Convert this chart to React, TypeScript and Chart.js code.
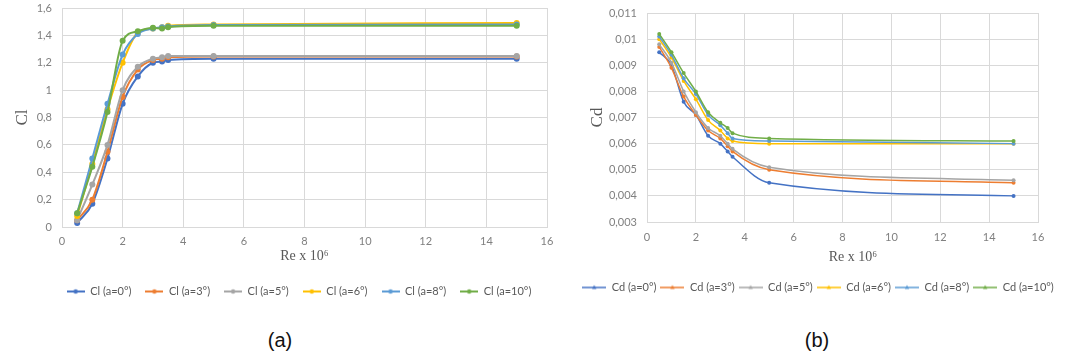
import React, { useEffect, useRef } from 'react';
import { Chart, registerables } from 'chart.js';

Chart.register(...registerables);

// Reynolds numbers (x 10^6) at which each case was evaluated
const RE = [0.5, 1, 1.5, 2, 2.5, 3, 3.3, 3.5, 5, 15];
const ANGLES = ['0', '3', '5', '6', '8', '10'];
const COLORS = ['#4472C4', '#ED7D31', '#A5A5A5', '#FFC000', '#5B9BD5', '#70AD47'];

// Lift coefficient per angle of attack
const CL_A0 = [0.03, 0.17, 0.5, 0.9, 1.1, 1.2, 1.21, 1.22, 1.23, 1.23];
const CL_A3 = [0.05, 0.2, 0.55, 0.95, 1.15, 1.22, 1.23, 1.24, 1.245, 1.245];
const CL_A5 = [0.05, 0.31, 0.6, 1.0, 1.17, 1.23, 1.24, 1.25, 1.25, 1.25];
const CL_A6 = [0.08, 0.46, 0.86, 1.2, 1.42, 1.45, 1.46, 1.47, 1.48, 1.49];
const CL_A8 = [0.1, 0.5, 0.9, 1.26, 1.41, 1.45, 1.46, 1.465, 1.475, 1.48];
const CL_A10 = [0.1, 0.44, 0.84, 1.36, 1.43, 1.455, 1.45, 1.46, 1.47, 1.47];

// Drag coefficient per angle of attack
const CD_A0 = [0.0095, 0.0090, 0.0076, 0.0071, 0.0063, 0.0060, 0.0057, 0.0055, 0.0045, 0.0040];
const CD_A3 = [0.0097, 0.0089, 0.0078, 0.0071, 0.0065, 0.0062, 0.0059, 0.0057, 0.0050, 0.0045];
const CD_A5 = [0.0098, 0.0091, 0.0080, 0.0072, 0.0066, 0.0063, 0.0060, 0.0058, 0.0051, 0.0046];
const CD_A6 = [0.0100, 0.0093, 0.0084, 0.0077, 0.0069, 0.0065, 0.0062, 0.0061, 0.0060, 0.0060];
const CD_A8 = [0.0101, 0.0094, 0.0085, 0.0079, 0.0071, 0.0067, 0.0064, 0.0062, 0.0061, 0.0060];
const CD_A10 = [0.0102, 0.0095, 0.0087, 0.0080, 0.0072, 0.0068, 0.0066, 0.0064, 0.0062, 0.0061];

const CL_SERIES = [CL_A0, CL_A3, CL_A5, CL_A6, CL_A8, CL_A10];
const CD_SERIES = [CD_A0, CD_A3, CD_A5, CD_A6, CD_A8, CD_A10];

const X_TITLE = 'Re x 10\u2076';
const TEXT_GRAY = '#595959';
const TICK_GRAY = '#808080';
const GRID = '#D9D9D9';

const comma = (v: number, digits: number) =>
  String(Number(v.toFixed(digits))).replace('.', ',');

// Small line-with-marker swatch used as the legend symbol
function legendGlyph(color: string, w: number, h: number, shape: 'circle' | 'triangle', lw: number) {
  const c = document.createElement('canvas');
  c.width = w;
  c.height = h;
  const g = c.getContext('2d')!;
  g.strokeStyle = color;
  g.lineWidth = lw;
  g.beginPath();
  g.moveTo(0, h / 2);
  g.lineTo(w, h / 2);
  g.stroke();
  g.fillStyle = color;
  g.beginPath();
  if (shape === 'circle') {
    g.arc(w / 2, h / 2, 2.2, 0, Math.PI * 2);
  } else {
    g.moveTo(w / 2, h / 2 - 2.5);
    g.lineTo(w / 2 + 2.2, h / 2 + 1.5);
    g.lineTo(w / 2 - 2.2, h / 2 + 1.5);
    g.closePath();
  }
  g.fill();
  return c;
}

type Spec = {
  prefix: string;
  series: number[][];
  yMin: number;
  yMax: number;
  yStep: number;
  yDigits: number;
  yTitle: string;
  yTitlePadTop: number;
  xTitle: string;
  padLeft: number;
  padTop: number;
  yWidth: number;
  rightGutter: number;
  xHeight: number;
  xTickPad: number;
  xTitlePadBottom: number;
  lineWidth: number;
  pointRadius: number;
  glyph: 'circle' | 'triangle';
  glyphWidth: number;
  legendPad: number;
};

function buildConfig(spec: Spec): any {
  const glyphs = COLORS.map((c) => legendGlyph(c, spec.glyphWidth, 8, spec.glyph, spec.lineWidth));
  return {
    type: 'line',
    data: {
      datasets: spec.series.map((vals, i) => ({
        label: `${spec.prefix} (a=${ANGLES[i]}\u00B0)`,
        data: RE.map((x, k) => ({ x, y: vals[k] })),
        borderColor: COLORS[i],
        backgroundColor: COLORS[i],
        borderWidth: spec.lineWidth,
        pointRadius: spec.pointRadius,
        pointBorderWidth: 0,
        pointBackgroundColor: COLORS[i],
        cubicInterpolationMode: 'monotone',
        fill: false,
        order: spec.series.length - i,
        yAxisID: 'y',
      })),
    },
    options: {
      responsive: false,
      animation: false,
      events: [],
      layout: { padding: { left: spec.padLeft, top: spec.padTop, right: 0, bottom: 0 } },
      plugins: {
        tooltip: { enabled: false },
        title: { display: false },
        legend: {
          position: 'bottom',
          labels: {
            usePointStyle: true,
            pointStyleWidth: spec.glyphWidth,
            boxHeight: 10,
            padding: spec.legendPad,
            color: TEXT_GRAY,
            font: { family: 'Lato', size: 11 },
            generateLabels: (chart: any) =>
              chart.data.datasets.map((ds: any, i: number) => ({
                text: ds.label,
                pointStyle: glyphs[i],
                fillStyle: COLORS[i],
                strokeStyle: COLORS[i],
                lineWidth: 0,
                hidden: false,
                datasetIndex: i,
                fontColor: TEXT_GRAY,
              })),
          },
        },
      },
      scales: {
        x: {
          type: 'linear',
          min: 0,
          max: 16,
          afterFit: (s: any) => {
            s.height = spec.xHeight;
          },
          ticks: {
            stepSize: 2,
            padding: spec.xTickPad,
            color: TICK_GRAY,
            font: { family: 'Lato', size: 11 },
            maxRotation: 0,
          },
          grid: { color: GRID, drawTicks: false },
          border: { color: GRID },
          title: {
            display: true,
            text: spec.xTitle,
            color: TEXT_GRAY,
            font: { family: 'Liberation Serif', size: 14 },
            padding: { top: 0, bottom: spec.xTitlePadBottom },
          },
        },
        y: {
          type: 'linear',
          position: 'left',
          min: spec.yMin,
          max: spec.yMax,
          afterFit: (s: any) => {
            s.width = spec.yWidth;
          },
          ticks: {
            stepSize: spec.yStep,
            padding: 0,
            color: TICK_GRAY,
            font: { family: 'Lato', size: 11 },
            callback: (v: any) => comma(Number(v), spec.yDigits),
          },
          grid: { color: GRID, drawTicks: true, tickLength: 10, tickColor: 'rgba(0,0,0,0)' },
          border: { color: GRID },
          title: {
            display: true,
            text: spec.yTitle,
            color: TEXT_GRAY,
            font: { family: 'Liberation Serif', size: 17 },
            padding: { top: spec.yTitlePadTop, bottom: 4 },
          },
        },
        // empty right-hand gutter so the legend row can extend past the plot
        gutter: {
          type: 'linear',
          position: 'right',
          display: true,
          afterFit: (s: any) => {
            s.width = spec.rightGutter;
          },
          ticks: { display: false },
          grid: { display: false, drawTicks: false },
          border: { display: false },
        },
      },
    },
  };
}

function ChartBox(props: { left: number; top: number; width: number; height: number; spec: Spec }) {
  const ref = useRef<HTMLCanvasElement | null>(null);
  useEffect(() => {
    if (!ref.current) return;
    const chart = new Chart(ref.current, buildConfig(props.spec));
    return () => chart.destroy();
  }, []);
  return (
    <canvas
      ref={ref}
      width={props.width}
      height={props.height}
      style={{ position: 'absolute', left: props.left, top: props.top, width: props.width, height: props.height }}
    />
  );
}

const LIFT: Spec = {
  prefix: 'Cl',
  series: CL_SERIES,
  yMin: 0,
  yMax: 1.6,
  yStep: 0.2,
  yDigits: 1,
  yTitle: 'Cl',
  yTitlePadTop: 4,
  xTitle: X_TITLE,
  padLeft: 8,
  padTop: 8,
  yWidth: 54,
  rightGutter: 43,
  xHeight: 45,
  xTickPad: 8,
  xTitlePadBottom: 7,
  lineWidth: 2,
  pointRadius: 3,
  glyph: 'circle',
  glyphWidth: 18,
  legendPad: 14,
};

const DRAG: Spec = {
  prefix: 'Cd',
  series: CD_SERIES,
  yMin: 0.003,
  yMax: 0.011,
  yStep: 0.001,
  yDigits: 3,
  yTitle: 'Cd',
  yTitlePadTop: 17,
  xTitle: '\u2002\u2002\u2002' + X_TITLE,
  padLeft: 20,
  padTop: 13,
  yWidth: 77,
  rightGutter: 28,
  xHeight: 56,
  xTickPad: 9,
  xTitlePadBottom: 12,
  lineWidth: 1.5,
  pointRadius: 2,
  glyph: 'triangle',
  glyphWidth: 24,
  legendPad: 4,
};

const captionStyle = (cx: number): React.CSSProperties => ({
  position: 'absolute',
  left: cx - 30,
  top: 328,
  width: 60,
  height: 24,
  lineHeight: '24px',
  textAlign: 'center',
  fontFamily: 'Liberation Sans',
  fontSize: 20,
  color: '#111',
});

export default function App() {
  return (
    <div style={{ position: 'absolute', left: 0, top: 0, width: 1066, height: 360, background: '#fff' }}>
      <ChartBox left={0} top={0} width={590} height={307} spec={LIFT} />
      <ChartBox left={550} top={0} width={516} height={303} spec={DRAG} />
      <div style={captionStyle(280)}>(a)</div>
      <div style={captionStyle(817)}>(b)</div>
    </div>
  );
}
